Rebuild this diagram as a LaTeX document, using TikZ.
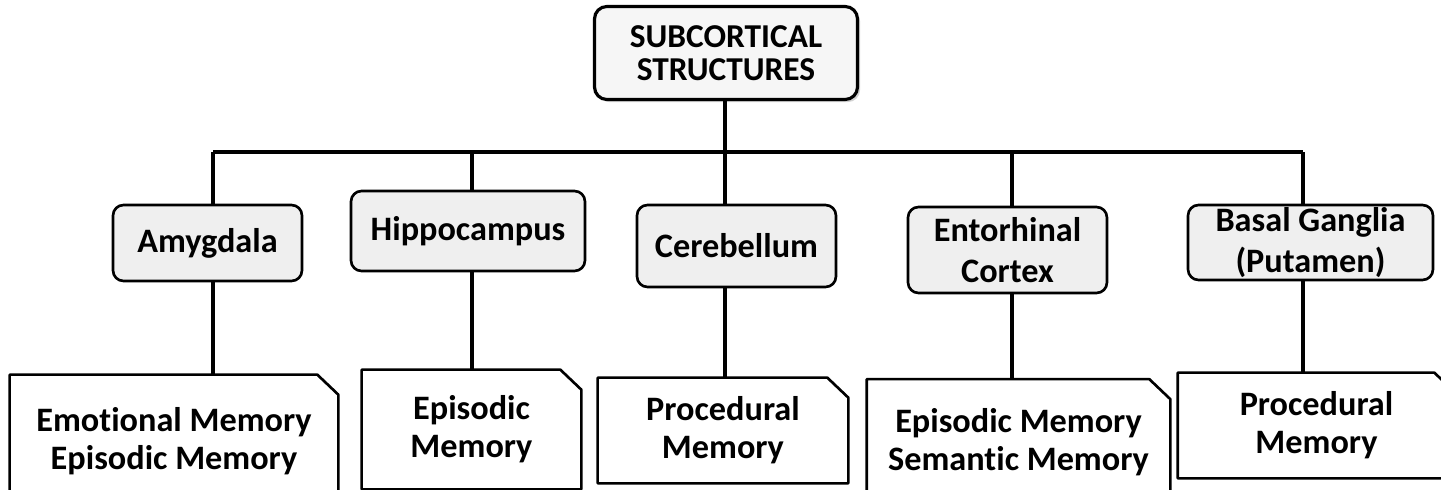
\documentclass[tikz,border=0pt]{standalone}
\usepackage{fontspec}
\setmainfont{Carlito}[Ligatures=CommonOff]
\usetikzlibrary{shadows}
\definecolor{boxfill}{RGB}{239, 239, 239}
\definecolor{topfill}{RGB}{246, 246, 246}

\tikzset{
  link/.style={line width=2.2pt, black},
  topbox/.style={draw, line width=1.8pt, rounded corners=7pt, fill=topfill,
                 drop shadow={shadow xshift=1.5pt, shadow yshift=-1.5pt, fill=gray!70},
                 align=center, inner sep=0pt, font=\fontsize{19}{18.5}\selectfont\bfseries},
  partbox/.style={draw, line width=1.5pt, rounded corners=6pt, fill=boxfill,
                  align=center, inner sep=0pt, font=\fontsize{19.5}{23}\selectfont\bfseries},
  memobox/.style={align=center, inner sep=0pt, font=\fontsize{19.5}{21.5}\selectfont\bfseries},
}

\begin{document}
\begin{tikzpicture}[x=0.02cm, y=-0.02cm]
            % Frame to fix the page:
            \useasboundingbox (0,0) rectangle (1441,490);
            \clip (0,0) rectangle (1441,490);
            % Top
            \node[topbox, minimum width=5.26cm, minimum height=1.86cm] (top) at (726,53) {SUBCORTICAL\\STRUCTURES};
            % Structures
            \node[partbox, minimum width=3.78cm, minimum height=1.52cm] (amyg)  at (207.5,243)  {Amygdala};
            \node[partbox, minimum width=4.68cm, minimum height=1.60cm] (hippo) at (468,231)    {Hippocampus};
            \node[partbox, minimum width=3.98cm, minimum height=1.64cm] (cereb) at (736.5,246)  {Cerebellum};
            \node[partbox, minimum width=3.98cm, minimum height=1.72cm] (ento)  at (1007.5,250) {Entorhinal\\Cortex};
            \node[partbox, minimum width=4.90cm, minimum height=1.50cm] (basal) at (1310.5,242.5) {Basal Ganglia\\(Putamen)};
            % Memories
            \node[memobox, minimum width=6.56cm, minimum height=2.64cm] (emo)   at (174,441)    {Emotional Memory\\Episodic Memory};
            \node[memobox, minimum width=4.38cm, minimum height=2.38cm] (epi)   at (471.5,429.5) {Episodic\\Memory};
            \node[memobox, minimum width=5.00cm, minimum height=2.10cm] (proc)  at (723,430.5)  {Procedural\\Memory};
            \node[memobox, minimum width=6.06cm, minimum height=2.50cm] (epsem) at (1018.5,442) {Episodic Memory\\Semantic Memory};
            \node[memobox, minimum width=5.54cm, minimum height=2.10cm] (proc2) at (1316.5,425.5) {Procedural\\Memory};
            \foreach \n in {emo, epi, proc, epsem, proc2}
                \draw[line width=1.5pt, line join=round]
                     (\n.north west) -- ([xshift=-0.42cm]\n.north east) -- ([yshift=-0.40cm]\n.north east)
                     -- (\n.south east) -- (\n.south west) -- cycle;
            % Tree lines
            \coordinate (c1) at (213,152);
            \coordinate (c2) at (472,152);
            \coordinate (c3) at (725,152);
            \coordinate (c4) at (1012,152);
            \coordinate (c5) at (1303,152);
            \draw[link] (top.south -| c3) -- (c3);
            \draw[link] (c1) -- (c5);
            \draw[link] (c1) -- (c1 |- amyg.north)  (c1 |- amyg.south)  -- (c1 |- emo.north);
            \draw[link] (c2) -- (c2 |- hippo.north) (c2 |- hippo.south) -- (c2 |- epi.north);
            \draw[link] (c3) -- (c3 |- cereb.north) (c3 |- cereb.south) -- (c3 |- proc.north);
            \draw[link] (c4) -- (c4 |- ento.north)  (c4 |- ento.south)  -- (c4 |- epsem.north);
            \draw[link] (c5) -- (c5 |- basal.north) (c5 |- basal.south) -- (c5 |- proc2.north);
        \end{tikzpicture}
\end{document}
